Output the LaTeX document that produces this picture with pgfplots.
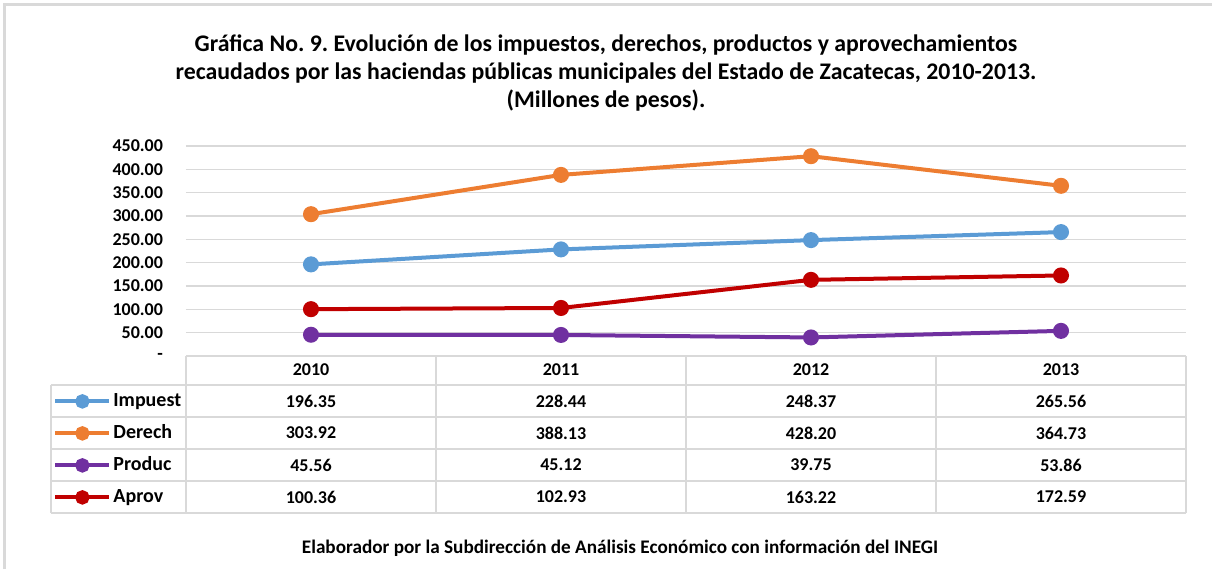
\documentclass[border=0pt]{standalone}
\usepackage{fontspec}
\setmainfont{Carlito}
\usepackage{pgfplots}
\pgfplotsset{compat=1.18}
\frenchspacing

\definecolor{cImp}{RGB}{91,155,213}
\definecolor{cDer}{RGB}{237,125,49}
\definecolor{cPro}{RGB}{112,48,160}
\definecolor{cApr}{RGB}{192,0,0}
\definecolor{gridc}{RGB}{217,217,217}

\begin{document}
\begin{tikzpicture}
% pixel grid of the reference: 1px = 0.5pt, y downwards
\begin{scope}[x=0.5pt,y=-0.5pt]
  \useasboundingbox (0,0) rectangle (1212,569);
  \draw[gridc,line width=1.5pt] (4,569) -- (4,4) -- (1212,4);
  % title
  \node[font=\bfseries\fontsize{11.9}{14}\selectfont] at (606,45) {Gráfica No. 9. Evolución de los impuestos, derechos, productos y aprovechamientos};
  \node[font=\bfseries\fontsize{11.9}{14}\selectfont] at (606,73) {recaudados por las haciendas públicas municipales del Estado de Zacatecas, 2010-2013.};
  \node[font=\bfseries\fontsize{11.9}{14}\selectfont] at (606,101) {(Millones de pesos).};
  % data table
  \draw[gridc,line width=0.6pt]
    (186,356) -- (1186,356)
    (51,385) -- (1186,385) (51,417) -- (1186,417) (51,449) -- (1186,449)
    (51,481) -- (1186,481) (51,513) -- (1186,513)
    (51,385) -- (51,513)
    (186,356) -- (186,513) (436,356) -- (436,513) (686,356) -- (686,513)
    (936,356) -- (936,513) (1186,356) -- (1186,513);
  \begin{scope}[every node/.style={font=\bfseries\fontsize{9}{11}\selectfont}]
    \node at (311,370) {2010};
    \node at (561,370) {2011};
    \node at (811,370) {2012};
    \node at (1061,370) {2013};
    \node at (311,401) {196.35}; \node at (561,401) {228.44}; \node at (811,401) {248.37}; \node at (1061,401) {265.56};
    \node at (311,433) {303.92}; \node at (561,433) {388.13}; \node at (811,433) {428.20}; \node at (1061,433) {364.73};
    \node at (311,465) {45.56};  \node at (561,465) {45.12};  \node at (811,465) {39.75};  \node at (1061,465) {53.86};
    \node at (311,497) {100.36}; \node at (561,497) {102.93}; \node at (811,497) {163.22}; \node at (1061,497) {172.59};
  \end{scope}
  % footnote
  \node[font=\bfseries\fontsize{9.6}{11}\selectfont] at (620,548) {Elaborador por la Subdirección de Análisis Económico con información del INEGI};
\end{scope}

\begin{axis}[
    at={(93pt,-178pt)}, anchor=south west,
    scale only axis,
    width=500pt, height=105pt,
    xmin=-0.5, xmax=3.5,
    ymin=0, ymax=450,
    xtick=\empty,
    ytick={0,50,...,450},
    yticklabels={-,50.00,100.00,150.00,200.00,250.00,300.00,350.00,400.00,450.00},
    yticklabel style={font=\bfseries\fontsize{9}{11}\selectfont, anchor=east, xshift=-8pt},
    ymajorgrids,
    grid style={gridc, line width=0.6pt},
    axis line style={draw=none},
    major tick length=0pt,
    clip=false,
    every axis plot/.append style={line width=2pt, mark=*, mark size=3pt},
    legend image code/.code={\draw[mark repeat=2,mark phase=2,#1,mark size=2.6pt] plot coordinates {(0pt,0pt) (13.5pt,0pt) (27pt,0pt)};},
    legend style={at={(-0.133,-0.138)}, anchor=north west, draw=none, fill=none,
      inner sep=0pt, row sep=0pt, column sep=0.5pt,
      font=\bfseries\fontsize{10}{12}\selectfont,
      nodes={inner sep=0.5pt, minimum height=16pt}},
    legend cell align=left,
  ]
  \addplot[cImp, mark options={fill=cImp, draw=none}] coordinates {(0,196.35) (1,228.44) (2,248.37) (3,265.56)};
  \addplot[cDer, mark options={fill=cDer, draw=none}] coordinates {(0,303.92) (1,388.13) (2,428.20) (3,364.73)};
  \addplot[cPro, mark options={fill=cPro, draw=none}] coordinates {(0,45.56) (1,45.12) (2,39.75) (3,53.86)};
  \addplot[cApr, mark options={fill=cApr, draw=none}] coordinates {(0,100.36) (1,102.93) (2,163.22) (3,172.59)};
  \legend{Impuest,Derech,Produc,Aprov}
\end{axis}
\end{tikzpicture}
\end{document}
